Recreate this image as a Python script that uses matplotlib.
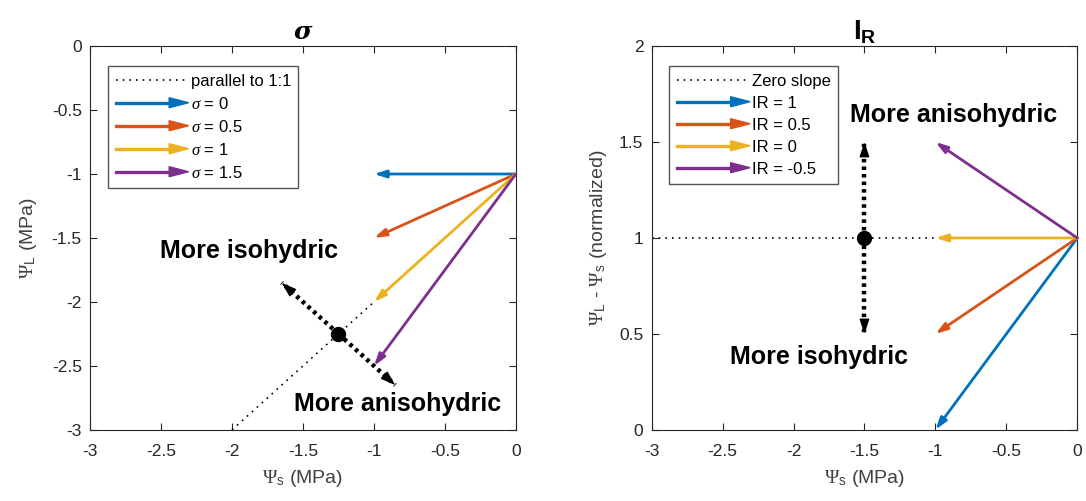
import numpy as np
import matplotlib
matplotlib.use("Agg")
import matplotlib.pyplot as plt
import matplotlib.patches as mpatches
from matplotlib.legend_handler import HandlerPatch
from matplotlib.lines import Line2D

plt.rcParams['font.family'] = ['Liberation Sans', 'DejaVu Sans']
plt.rcParams['mathtext.fontset'] = 'custom'
plt.rcParams['mathtext.rm'] = 'Liberation Sans'
plt.rcParams['mathtext.it'] = 'Liberation Serif:italic'
plt.rcParams['mathtext.bf'] = 'Liberation Sans:bold'
plt.rcParams['mathtext.tt'] = 'Liberation Serif'

colors = ['#0072BD', '#D95319', '#EDB120', '#7E2F8E']

# sigma panel: arrows start at (0, -1), slope sigma, end at x = -1
sigma_vals = [0, 0.5, 1, 1.5]
sigma_labels = ['$\\mathit{\\sigma}$ = 0', '$\\mathit{\\sigma}$ = 0.5',
                '$\\mathit{\\sigma}$ = 1', '$\\mathit{\\sigma}$ = 1.5']
sigma_start = (0, -1)
sigma_dx = -1

# IR panel: arrows start at (0, 1), slope IR, end at x = -1
ir_vals = [1, 0.5, 0, -0.5]
ir_labels = ['IR = 1', 'IR = 0.5', 'IR = 0', 'IR = -0.5']
ir_start = (0, 1)
ir_dx = -1

DOT = (0, (1, 3))
BIGDOT = (0, (0.8, 0.9))


class HandlerArrow(HandlerPatch):
    def create_artists(self, legend, orig_handle, xdescent, ydescent, width, height, fontsize, trans):
        c = orig_handle.get_facecolor()
        y = height / 2 - ydescent
        x1 = width - xdescent
        line = Line2D([-xdescent, x1 - 8], [y, y], color=c, lw=2.4, transform=trans)
        head = mpatches.Polygon([[x1 - 13, y + 3.6], [x1 + 1, y], [x1 - 13, y - 3.6]],
                                closed=True, facecolor=c, edgecolor=c, transform=trans)
        return [line, head]


def arrow(ax, x0, y0, x1, y1, color, lw=2.0):
    ax.annotate('', xy=(x1, y1), xytext=(x0, y0),
                arrowprops=dict(arrowstyle='-|>,head_length=0.7,head_width=0.22',
                                color=color, lw=lw, shrinkA=0, shrinkB=0))


def dotted_arrow(ax, x0, y0, x1, y1):
    ax.plot([x0, x1], [y0, y1], ls=BIGDOT, color='k', lw=3.2)
    f = 0.1
    ax.annotate('', xy=(x1, y1), xytext=(x1 - f * (x1 - x0), y1 - f * (y1 - y0)),
                arrowprops=dict(arrowstyle='-|>,head_length=0.9,head_width=0.3',
                                color='k', lw=1, shrinkA=0, shrinkB=0))


def legend(ax, first, first_style, labels):
    hs = [Line2D([], [], ls=first_style, color='k', lw=1.2)] + \
         [mpatches.Patch(facecolor=c) for c in colors]
    ax.legend(hs, [first] + labels, loc='upper left',
              handler_map={mpatches.Patch: HandlerArrow()}, fontsize=12, fancybox=False,
              edgecolor='#555555', framealpha=1, handlelength=4.3, handletextpad=0.2,
              labelspacing=0.42, borderpad=0.45, borderaxespad=0,
              bbox_to_anchor=(0.042, 0.948))


fig = plt.figure(figsize=(10.86, 5.01), dpi=100)
ax1 = fig.add_axes([0.083, 0.142, 0.392, 0.766])
ax2 = fig.add_axes([0.600, 0.142, 0.392, 0.766])

# ---- sigma panel ----
ax1.plot([-2, -1], [-3, -2], ls=DOT, color='k', lw=1.2)
for s, c in zip(sigma_vals, colors):
    x0, y0 = sigma_start
    arrow(ax1, x0, y0, x0 + sigma_dx, y0 + s * sigma_dx, c)
dotted_arrow(ax1, -1.25, -2.25, -1.65, -1.85)
dotted_arrow(ax1, -1.25, -2.25, -0.85, -2.65)
ax1.plot(-1.25, -2.25, 'o', color='k', ms=10)
ax1.text(-2.51, -1.6, 'More isohydric', fontsize=18, fontweight='bold', ha='left', va='center')
ax1.text(-1.56, -2.8, 'More anisohydric', fontsize=18, fontweight='bold', ha='left', va='center')
legend(ax1, 'parallel to 1:1', DOT, sigma_labels)

ax1.set_xlim(-3, 0)
ax1.set_ylim(-3, 0)
ax1.set_xticks(np.arange(-3, 0.01, 0.5))
ax1.set_yticks(np.arange(-3, 0.01, 0.5))
ax1.set_xticklabels(['-3', '-2.5', '-2', '-1.5', '-1', '-0.5', '0'])
ax1.set_yticklabels(['-3', '-2.5', '-2', '-1.5', '-1', '-0.5', '0'])
ax1.set_xlabel('$\\mathtt{\\Psi}_\\mathrm{s}$ (MPa)', fontsize=14, color='#404040', labelpad=7)
ax1.set_ylabel('$\\mathtt{\\Psi}_\\mathrm{L}$ (MPa)', fontsize=14, color='#404040', labelpad=9)
ax1.set_title('σ', fontsize=18, fontweight='bold', fontstyle='italic',
              family='DejaVu Serif', pad=5)

# ---- IR panel ----
ax2.plot([-3, -1], [1, 1], ls=DOT, color='k', lw=1.2)
for r, c in zip(ir_vals, colors):
    x0, y0 = ir_start
    arrow(ax2, x0, y0, x0 + ir_dx, y0 + r * ir_dx, c)
dotted_arrow(ax2, -1.5, 1, -1.5, 1.5)
dotted_arrow(ax2, -1.5, 1, -1.5, 0.5)
ax2.plot(-1.5, 1, 'o', color='k', ms=10)
ax2.text(-0.87, 1.64, 'More anisohydric', fontsize=18, fontweight='bold', ha='center', va='center')
ax2.text(-1.82, 0.38, 'More isohydric', fontsize=18, fontweight='bold', ha='center', va='center')
legend(ax2, 'Zero slope', DOT, ir_labels)

ax2.set_xlim(-3, 0)
ax2.set_ylim(0, 2)
ax2.set_xticks(np.arange(-3, 0.01, 0.5))
ax2.set_yticks(np.arange(0, 2.01, 0.5))
ax2.set_xticklabels(['-3', '-2.5', '-2', '-1.5', '-1', '-0.5', '0'])
ax2.set_yticklabels(['0', '0.5', '1', '1.5', '2'])
ax2.set_xlabel('$\\mathtt{\\Psi}_\\mathrm{s}$ (MPa)', fontsize=14, color='#404040', labelpad=7)
ax2.set_ylabel('$\\mathtt{\\Psi}_\\mathrm{L}$ - $\\mathtt{\\Psi}_\\mathrm{s}$ (normalized)',
               fontsize=14, color='#404040', labelpad=7)
ax2.set_title('$\\mathbf{I_R}$', fontsize=20, pad=5)

for ax in (ax1, ax2):
    for sp in ax.spines.values():
        sp.set_color('#262626')
        sp.set_linewidth(0.8)
    ax.tick_params(direction='in', length=5, labelsize=12.5, colors='#262626', top=True, right=True,
                   labeltop=False, labelright=False)
    ax.tick_params(axis='x', pad=10)
    ax.tick_params(axis='y', pad=6)

fig.savefig('out.png', dpi=100)
